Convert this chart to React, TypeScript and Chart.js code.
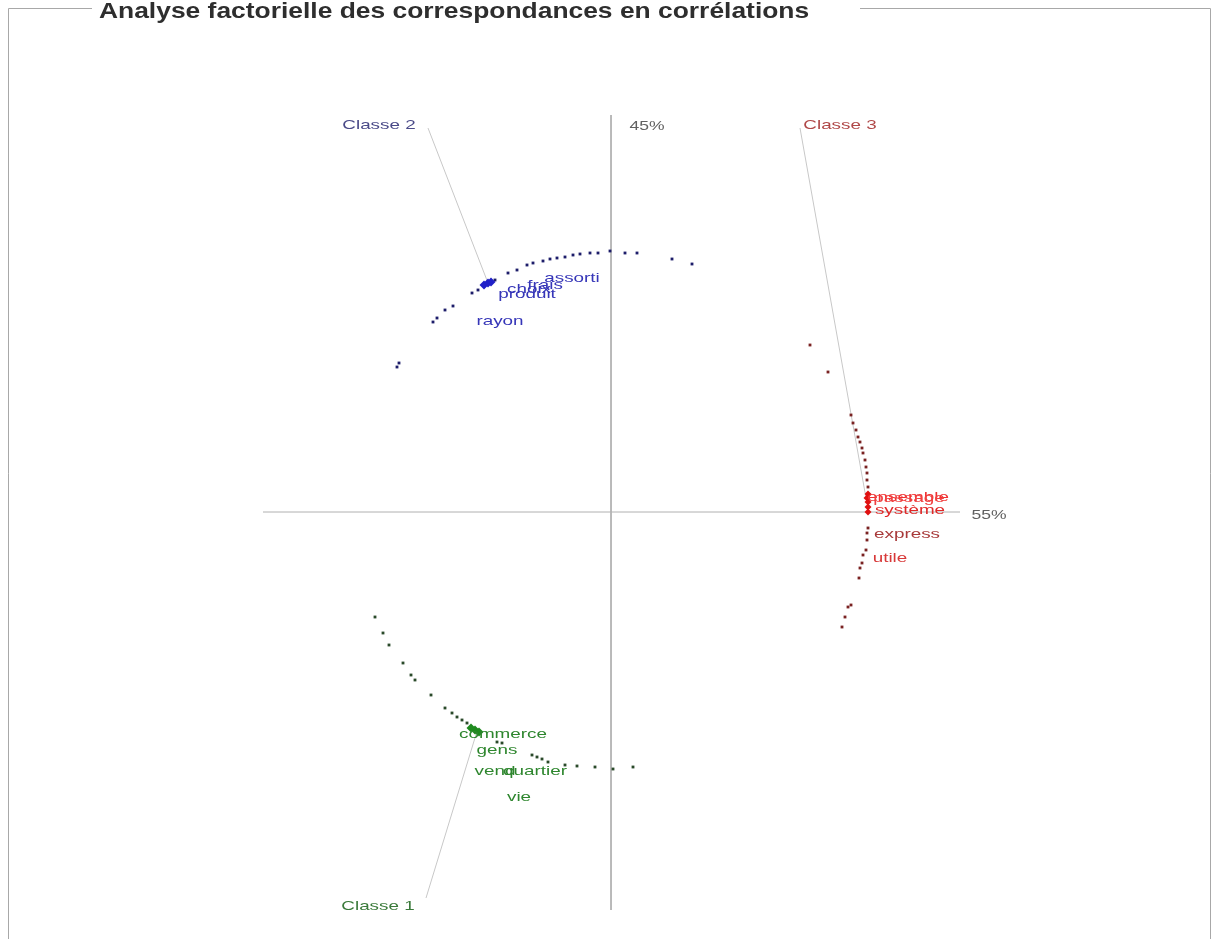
import React, { useEffect, useRef } from "react";
import { Chart, registerables } from "chart.js";

Chart.register(...registerables);

// ---- Data (coordinates on the factorial plane, both axes in [-1, 1]) ----
const titleText = "Analyse factorielle des correspondances en corrélations";

// Classe 2 (blue) points
const class2X = [-0.535, -0.53, -0.445, -0.435, -0.415, -0.395, -0.3475, -0.3325, -0.29, -0.2575, -0.235, -0.21, -0.195, -0.17, -0.1525, -0.135, -0.115, -0.095, -0.0775, -0.0525, -0.0325, -0.0025, 0.035, 0.065, 0.1525, 0.2025];
const class2Y = [0.3625, 0.3725, 0.475, 0.485, 0.505, 0.515, 0.5475, 0.555, 0.58, 0.5975, 0.605, 0.6175, 0.6225, 0.6275, 0.6325, 0.635, 0.6375, 0.6425, 0.645, 0.6475, 0.6475, 0.6525, 0.6475, 0.6475, 0.6325, 0.62];
const class2CenterX = [-0.3075, -0.3175, -0.3];
const class2CenterY = [0.5725, 0.5675, 0.575];

// Classe 3 (red) points
const class3X = [0.4975, 0.5425, 0.6, 0.605, 0.6125, 0.6175, 0.6225, 0.6275, 0.63, 0.635, 0.6375, 0.64, 0.64, 0.6425, 0.6425, 0.64, 0.64, 0.6375, 0.63, 0.6275, 0.6225, 0.62, 0.6, 0.5925, 0.585, 0.5775];
const class3Y = [0.4175, 0.35, 0.2425, 0.2225, 0.205, 0.1875, 0.175, 0.16, 0.1475, 0.13, 0.1125, 0.0975, 0.08, 0.0625, -0.04, -0.0525, -0.07, -0.095, -0.1075, -0.1275, -0.14, -0.165, -0.2325, -0.2375, -0.2625, -0.2875];
const class3CenterX = [0.64, 0.6425, 0.6425, 0.6425, 0.6425];
const class3CenterY = [0.035, 0.045, 0.025, 0.0125, 0.0];

// Classe 1 (green) points
const class1X = [-0.59, -0.57, -0.555, -0.52, -0.5, -0.49, -0.45, -0.415, -0.3975, -0.385, -0.3725, -0.36, -0.285, -0.2725, -0.1975, -0.185, -0.1725, -0.1575, -0.115, -0.085, -0.04, 0.005, 0.055];
const class1Y = [-0.2625, -0.3025, -0.3325, -0.3775, -0.4075, -0.42, -0.4575, -0.49, -0.5025, -0.5125, -0.52, -0.5275, -0.575, -0.5775, -0.6075, -0.6125, -0.6175, -0.625, -0.6325, -0.635, -0.6375, -0.6425, -0.6375];
const class1CenterX = [-0.34, -0.35, -0.33];
const class1CenterY = [-0.545, -0.54, -0.55];

// Word labels
const words2 = ["assorti", "frais", "choix", "produit", "rayon"];
const words2X = [-0.0975, -0.165, -0.205, -0.21, -0.2775];
const words2Y = [0.585, 0.5675, 0.5575, 0.545, 0.4775];

const words3 = ["ensemble", "passage", "système", "express", "utile"];
const words3X = [0.7425, 0.745, 0.7475, 0.74, 0.6975];
const words3Y = [0.0375, 0.035, 0.005, -0.055, -0.115];

const words1 = ["commerce", "gens", "vend", "quartier", "vie"];
const words1X = [-0.27, -0.285, -0.29, -0.19, -0.23];
const words1Y = [-0.555, -0.595, -0.6475, -0.6475, -0.7125];

// Class labels and their connector lines
const classNames = ["Classe 2", "Classe 3", "Classe 1"];
const classLabelX = [-0.58, 0.5725, -0.5825];
const classLabelY = [0.9675, 0.9675, -0.985];
const connectorStartX = [-0.4575, 0.4725, -0.4625];
const connectorStartY = [0.96, 0.96, -0.965];
const connectorEndX = [-0.3075, 0.6375, -0.3325];
const connectorEndY = [0.5725, 0.035, -0.54];

// Axes (inertia percentages)
const axisLabels = ["45%", "55%"];
const axisLabelX = [0.09, 0.945];
const axisLabelY = [0.965, -0.0075];
const hAxisX = [-0.87, 0.8725];
const vAxisY = [0.9925, -0.995];

// ---- Styles ----
const C2_POINT = "#1d1d6a";
const C2_CENTER = "#2020c8";
const C2_TEXT = "#3636b8";
const C2_LABEL = "#4a4a88";
const C3_POINT = "#7a2222";
const C3_CENTER = "#e01010";
const C3_LABEL = "#b04848";
const C1_POINT = "#2a4a2a";
const C1_CENTER = "#1f8a1f";
const C1_TEXT = "#2e862e";
const C1_LABEL = "#3a7a3a";
const words3Colors = ["#f03030", "#f04040", "#e02828", "#a83a3a", "#d83838"];

const pts = (xs: number[], ys: number[]) => xs.map((x, i) => ({ x, y: ys[i] }));

export default function App() {
  const ref = useRef<HTMLCanvasElement | null>(null);

  useEffect(() => {
    if (!ref.current) return;

    const lineDs = (data: { x: number; y: number }[], color: string) => ({
      type: "scatter" as const,
      data,
      showLine: true,
      borderColor: color,
      borderWidth: 1,
      pointRadius: 0,
      clip: false as any,
      order: 10,
    });
    const pointDs = (data: { x: number; y: number }[], color: string, r: number, order: number, style = "rect") => ({
      type: "scatter" as const,
      data,
      showLine: false,
      backgroundColor: color,
      borderColor: color,
      borderWidth: 0,
      pointRadius: r,
      pointStyle: style,
      clip: false as any,
      order,
    });

    const datasets: any[] = [
      lineDs([{ x: hAxisX[0], y: 0 }, { x: hAxisX[1], y: 0 }], "#b0b0b0"),
      lineDs([{ x: 0, y: vAxisY[0] }, { x: 0, y: vAxisY[1] }], "#b0b0b0"),
      ...connectorStartX.map((sx, i) =>
        lineDs([{ x: sx, y: connectorStartY[i] }, { x: connectorEndX[i], y: connectorEndY[i] }], "#c8c8c8")
      ),
      pointDs(pts(class2X, class2Y), C2_POINT, 2, 5),
      pointDs(pts(class3X, class3Y), C3_POINT, 2, 5),
      pointDs(pts(class1X, class1Y), C1_POINT, 2, 5),
      pointDs(pts(class2CenterX, class2CenterY), C2_CENTER, 4.5, 4, "rectRot"),
      pointDs(pts(class3CenterX, class3CenterY), C3_CENTER, 3.5, 4, "rectRot"),
      pointDs(pts(class1CenterX, class1CenterY), C1_CENTER, 4.5, 4, "rectRot"),
    ];

    const drawText = (ctx: CanvasRenderingContext2D, text: string, px: number, py: number, color: string, sx = 1.45) => {
      ctx.save();
      ctx.translate(px, py);
      ctx.scale(sx, 1);
      ctx.font = '13px "Liberation Sans", Arial, sans-serif';
      ctx.textAlign = "center";
      ctx.textBaseline = "middle";
      ctx.fillStyle = color;
      ctx.fillText(text, 0, 0);
      ctx.restore();
    };

    const labelPlugin = {
      id: "afcLabels",
      afterDatasetsDraw(chart: any) {
        const { ctx } = chart;
        const xs = chart.scales.x;
        const ys = chart.scales.y;
        const P = (x: number, y: number) => [xs.getPixelForValue(x), ys.getPixelForValue(y)];
        words2.forEach((w, i) => {
          const [px, py] = P(words2X[i], words2Y[i]);
          drawText(ctx, w, px, py, C2_TEXT);
        });
        words3.forEach((w, i) => {
          const [px, py] = P(words3X[i], words3Y[i]);
          drawText(ctx, w, px, py, words3Colors[i]);
        });
        words1.forEach((w, i) => {
          const [px, py] = P(words1X[i], words1Y[i]);
          drawText(ctx, w, px, py, C1_TEXT);
        });
        const classColors = [C2_LABEL, C3_LABEL, C1_LABEL];
        classNames.forEach((w, i) => {
          const [px, py] = P(classLabelX[i], classLabelY[i]);
          drawText(ctx, w, px, py, classColors[i]);
        });
        axisLabels.forEach((w, i) => {
          const [px, py] = P(axisLabelX[i], axisLabelY[i]);
          drawText(ctx, w, px, py, "#606060", 1.35);
        });
      },
      afterDraw(chart: any) {
        const { ctx } = chart;
        ctx.save();
        // fieldset-like frame
        ctx.strokeStyle = "#a8a8a8";
        ctx.lineWidth = 1;
        ctx.beginPath();
        ctx.moveTo(8.5, 939);
        ctx.lineTo(8.5, 8.5);
        ctx.lineTo(92, 8.5);
        ctx.moveTo(860, 8.5);
        ctx.lineTo(1210.5, 8.5);
        ctx.lineTo(1210.5, 939);
        ctx.stroke();
        // title
        ctx.translate(99, 18);
        ctx.scale(1.2, 1);
        ctx.font = 'bold 22px "Liberation Sans", Arial, sans-serif';
        ctx.textAlign = "left";
        ctx.textBaseline = "alphabetic";
        ctx.fillStyle = "#2e2e2e";
        ctx.fillText(titleText, 0, 0);
        ctx.restore();
      },
    };

    const chart = new Chart(ref.current, {
      type: "scatter",
      data: { datasets },
      options: {
        animation: false,
        responsive: false,
        maintainAspectRatio: false,
        layout: { padding: { left: 211, right: 203, top: 112, bottom: 27 } },
        plugins: { legend: { display: false }, tooltip: { enabled: false }, title: { display: false } },
        scales: {
          x: { type: "linear", min: -1, max: 1, display: false },
          y: { type: "linear", min: -1, max: 1, display: false },
        },
      },
      plugins: [labelPlugin],
    });
    return () => chart.destroy();
  }, []);

  return (
    <div style={{ position: "fixed", left: 0, top: 0, width: 1214, height: 939, background: "#fff" }}>
      <canvas ref={ref} width={1214} height={939} style={{ display: "block", width: 1214, height: 939 }} />
    </div>
  );
}
